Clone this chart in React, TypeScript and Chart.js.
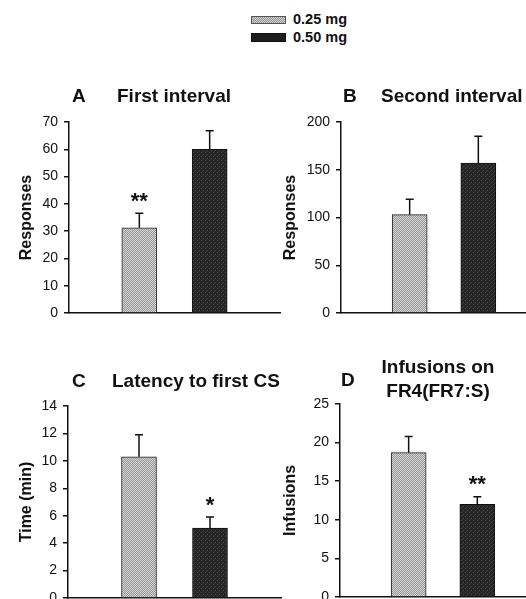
import React, { useEffect, useRef } from "react";
import { Chart, registerables } from "chart.js";

Chart.register(...registerables);

const FONT = '"Liberation Sans", Arial, Helvetica, sans-serif';

// ---- data ----
const doseLabels = ["0.25 mg", "0.50 mg"];
const slotLabels = ["", "0.25 mg", "0.50 mg", ""];

const firstIntervalMeans = [31.2, 60.0];
const firstIntervalSem = [5.4, 6.8];
const firstIntervalSig = ["**", ""];

const secondIntervalMeans = [103, 157];
const secondIntervalSem = [16, 28];
const secondIntervalSig = ["", ""];

const latencyMeans = [10.3, 5.1];
const latencySem = [1.6, 0.8];
const latencySig = ["", "*"];

const infusionMeans = [18.7, 12.0];
const infusionSem = [2.1, 1.0];
const infusionSig = ["", "**"];

const firstIntervalTicks = { max: 70, step: 10 };
const secondIntervalTicks = { max: 200, step: 50 };
const latencyTicks = { max: 14, step: 2 };
const infusionTicks = { max: 25, step: 5 };

// ---- patterns ----
function makePattern(ctx: CanvasRenderingContext2D, kind: "light" | "dark") {
  const c = document.createElement("canvas");
  c.width = 4;
  c.height = 4;
  const g = c.getContext("2d")!;
  for (let y = 0; y < 4; y++) {
    for (let x = 0; x < 4; x++) {
      let col: string;
      if (kind === "light") {
        col = (x + y) % 2 === 0 ? "#d6d6d6" : "#959595";
      } else {
        col = "#262626";
        if ((x === 1 && y === 0) || (x === 3 && y === 2)) col = "#444444";
        if (x === 2 && y === 3) col = "#363636";
      }
      g.fillStyle = col;
      g.fillRect(x, y, 1, 1);
    }
  }
  return ctx.createPattern(c, "repeat")!;
}

type PanelCfg = {
  id: string;
  letter: string;
  title: string[];
  yTitle: string;
  means: number[];
  sem: number[];
  sig: string[];
  ticks: { max: number; step: number };
  box: { left: number; top: number; width: number; height: number };
  pad: { top: number; bottom: number; right: number };
  axisWidth: number;
  letterDx: number;
  letterDy: number;
  titleDx: number;
  titleDy: number[];
  titleAlign: CanvasTextAlign;
};

const panels: PanelCfg[] = [
  {
    id: "A", letter: "A", title: ["First interval"], yTitle: "Responses",
    means: firstIntervalMeans, sem: firstIntervalSem, sig: firstIntervalSig, ticks: firstIntervalTicks,
    box: { left: 0, top: 60, width: 300, height: 275 },
    pad: { top: 62, bottom: 22, right: 20 }, axisWidth: 69,
    letterDx: 3, letterDy: -25, titleDx: 48, titleDy: [-25], titleAlign: "left",
  },
  {
    id: "B", letter: "B", title: ["Second interval"], yTitle: "Responses",
    means: secondIntervalMeans, sem: secondIntervalSem, sig: secondIntervalSig, ticks: secondIntervalTicks,
    box: { left: 264, top: 60, width: 300, height: 275 },
    pad: { top: 62, bottom: 22, right: 17 }, axisWidth: 77,
    letterDx: 2, letterDy: -25, titleDx: 40, titleDy: [-25], titleAlign: "left",
  },
  {
    id: "C", letter: "C", title: ["Latency to first CS"], yTitle: "Time (min)",
    means: latencyMeans, sem: latencySem, sig: latencySig, ticks: latencyTicks,
    box: { left: 0, top: 340, width: 300, height: 280 },
    pad: { top: 66, bottom: 22, right: 19 }, axisWidth: 68,
    letterDx: 4, letterDy: -24, titleDx: 44, titleDy: [-24], titleAlign: "left",
  },
  {
    id: "D", letter: "D", title: ["Infusions on", "FR4(FR7:S)"], yTitle: "Infusions",
    means: infusionMeans, sem: infusionSem, sig: infusionSig, ticks: infusionTicks,
    box: { left: 264, top: 340, width: 300, height: 280 },
    pad: { top: 64, bottom: 23, right: 18 }, axisWidth: 76,
    letterDx: 1, letterDy: -23, titleDx: 98, titleDy: [-36, -12], titleAlign: "center",
  },
];

function Panel({ cfg }: { cfg: PanelCfg }) {
  const ref = useRef<HTMLCanvasElement | null>(null);
  useEffect(() => {
    const canvas = ref.current!;
    const ctx = canvas.getContext("2d")!;
    const light = makePattern(ctx, "light");
    const dark = makePattern(ctx, "dark");

    const dataFor = (i: number) => slotLabels.map((_, k) => (k === i + 1 ? cfg.means[i] : null));

    const annot = {
      id: "annot_" + cfg.id,
      afterDatasetsDraw(chart: any) {
        const c = chart.ctx as CanvasRenderingContext2D;
        const ys = chart.scales.y;
        c.save();
        c.strokeStyle = "#111";
        c.lineWidth = 1.5;
        for (let i = 0; i < doseLabels.length; i++) {
          const el = chart.getDatasetMeta(i).data[i + 1];
          if (!el) continue;
          const x = el.x;
          const yTop = el.y;
          const yErr = ys.getPixelForValue(cfg.means[i] + cfg.sem[i]);
          c.beginPath();
          c.moveTo(x, yTop);
          c.lineTo(x, yErr);
          c.moveTo(x - 4, yErr);
          c.lineTo(x + 4, yErr);
          c.stroke();
          if (cfg.sig[i]) {
            c.fillStyle = "#111";
            c.font = `bold 22px ${FONT}`;
            c.textAlign = "center";
            c.textBaseline = "alphabetic";
            c.fillText(cfg.sig[i], x, yErr - 5.5);
          }
        }
        c.restore();
      },
      afterDraw(chart: any) {
        const c = chart.ctx as CanvasRenderingContext2D;
        const a = chart.chartArea;
        c.save();
        c.fillStyle = "#111";
        c.font = `bold 19px ${FONT}`;
        c.textBaseline = "middle";
        c.textAlign = "left";
        c.fillText(cfg.letter, a.left + cfg.letterDx, a.top + cfg.letterDy);
        c.textAlign = cfg.titleAlign;
        cfg.title.forEach((t, k) => {
          c.fillText(t, a.left + cfg.titleDx, a.top + cfg.titleDy[k]);
        });
        c.restore();
      },
    };

    const chart = new Chart(canvas, {
      type: "bar",
      data: {
        labels: slotLabels,
        datasets: [
          {
            label: doseLabels[0],
            data: dataFor(0),
            backgroundColor: light,
            borderColor: "#222",
            borderWidth: 1,
            barThickness: 35,
            grouped: false,
          } as any,
          {
            label: doseLabels[1],
            data: dataFor(1),
            backgroundColor: dark,
            borderColor: "#111",
            borderWidth: 1,
            barThickness: 35,
            grouped: false,
          } as any,
        ],
      },
      options: {
        animation: false,
        responsive: false,
        devicePixelRatio: 1,
        layout: { padding: { left: 0, top: cfg.pad.top, bottom: cfg.pad.bottom, right: cfg.pad.right } },
        plugins: { legend: { display: false }, tooltip: { enabled: false }, title: { display: false } },
        scales: {
          x: {
            type: "category",
            offset: false,
            grid: { display: false, drawTicks: false },
            ticks: { display: false },
            border: { display: true, color: "#111", width: 1.5 },
          },
          y: {
            min: 0,
            max: cfg.ticks.max,
            ticks: {
              stepSize: cfg.ticks.step,
              padding: 6,
              color: "#111",
              font: { family: FONT, size: 14 },
            },
            grid: { drawOnChartArea: false, drawTicks: true, tickLength: 5, color: "#111", lineWidth: 1.5 },
            border: { display: true, color: "#111", width: 1.5 },
            title: {
              display: true,
              text: cfg.yTitle,
              color: "#111",
              font: { family: FONT, size: 16, weight: "bold" },
              padding: { top: 17, bottom: 0 },
            },
            afterFit(scale: any) {
              scale.width = cfg.axisWidth;
            },
          },
        },
      },
      plugins: [annot],
    });
    return () => chart.destroy();
  }, [cfg]);

  return (
    <canvas
      ref={ref}
      width={cfg.box.width}
      height={cfg.box.height}
      style={{
        position: "absolute",
        left: cfg.box.left,
        top: cfg.box.top,
        width: cfg.box.width,
        height: cfg.box.height,
      }}
    />
  );
}

function Legend() {
  const swatchLight: React.CSSProperties = {
    position: "absolute", left: 251, top: 16, width: 33, height: 6,
    border: "1px solid #555",
    backgroundColor: "#b4b4b4",
    backgroundImage: "repeating-conic-gradient(#d6d6d6 0% 25%, #909090 0% 50%)",
    backgroundSize: "2px 2px",
  };
  const swatchDark: React.CSSProperties = {
    position: "absolute", left: 251, top: 33, width: 33, height: 7,
    border: "1px solid #111",
    backgroundColor: "#1c1c1c",
  };
  const text: React.CSSProperties = {
    position: "absolute", left: 293, fontFamily: FONT, fontWeight: "bold", fontSize: 14.5,
    color: "#111", lineHeight: "16px", whiteSpace: "nowrap",
  };
  return (
    <>
      <div style={swatchLight} />
      <div style={{ ...text, top: 11 }}>{doseLabels[0]}</div>
      <div style={swatchDark} />
      <div style={{ ...text, top: 29 }}>{doseLabels[1]}</div>
    </>
  );
}

export default function App() {
  return (
    <div
      style={{
        position: "fixed", left: 0, top: 0, width: 526, height: 599,
        overflow: "hidden", background: "#fff",
      }}
    >
      <Legend />
      {panels.map((p) => (
        <Panel key={p.id} cfg={p} />
      ))}
    </div>
  );
}
